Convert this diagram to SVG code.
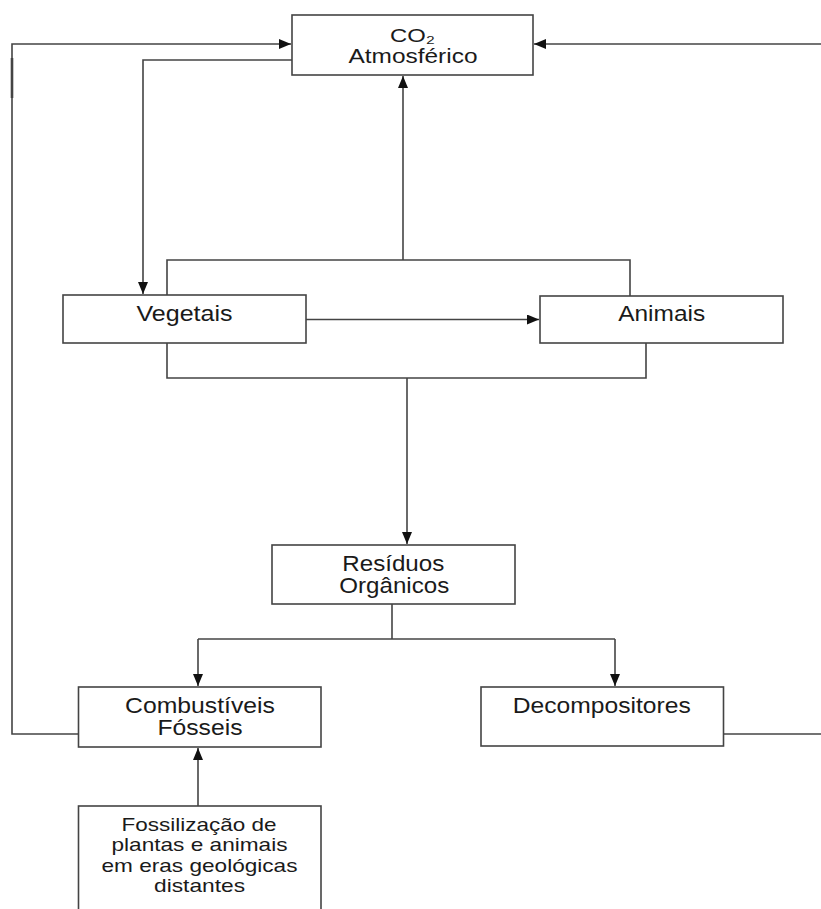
<svg xmlns="http://www.w3.org/2000/svg" width="821" height="909" viewBox="0 0 821 909">
<style>
.box{fill:#fff;stroke:#444;stroke-width:1.6}
.ln{fill:none;stroke:#444;stroke-width:1.6}
.t{font-family:"Liberation Sans",Arial,sans-serif;font-size:21.5px;fill:#1a1a1a;text-anchor:middle}
.s{font-size:19px}
.c{font-size:18px}
.a{font-size:19.5px}
</style>
<defs>
<marker id="ah" markerUnits="userSpaceOnUse" markerWidth="13" markerHeight="11" refX="12" refY="5" orient="auto">
<path d="M0,0 L12,5 L0,10 z" fill="#111"/>
</marker>
</defs>
<rect width="821" height="909" fill="#fff"/>
<g id="connectors">
<path class="ln" d="M78,734 H12 V44 H291" marker-end="url(#ah)"/>
<line x1="12" y1="58" x2="12" y2="98" stroke="#444" stroke-width="2.6"/>
<path class="ln" d="M821,44 H534" marker-end="url(#ah)"/>
<path class="ln" d="M723,734 H821"/>
<path class="ln" d="M292,60 H143 V294" marker-end="url(#ah)"/>
<path class="ln" d="M167,295 V260 H630 V296"/>
<path class="ln" d="M403,260 V76" marker-end="url(#ah)"/>
<path class="ln" d="M306,319.5 H539" marker-end="url(#ah)"/>
<path class="ln" d="M167,343 V378 H646 V343"/>
<path class="ln" d="M407,378 V544" marker-end="url(#ah)"/>
<path class="ln" d="M392,604 V639"/>
<path class="ln" d="M198,639 H615"/>
<path class="ln" d="M198,639 V686" marker-end="url(#ah)"/>
<path class="ln" d="M615,639 V686" marker-end="url(#ah)"/>
<path class="ln" d="M198,806 V748" marker-end="url(#ah)"/>
</g>
<g id="co2">
<rect class="box" x="292" y="15" width="241" height="60"/>
<text class="t c" x="412.5" y="41.5" textLength="45" lengthAdjust="spacingAndGlyphs">CO₂</text>
<text class="t a" x="413" y="63" textLength="129" lengthAdjust="spacingAndGlyphs">Atmosférico</text>
</g>
<g id="vegetais">
<rect class="box" x="63" y="295" width="243" height="48"/>
<text class="t" x="184.5" y="321" textLength="96" lengthAdjust="spacingAndGlyphs">Vegetais</text>
</g>
<g id="animais">
<rect class="box" x="540" y="296" width="243" height="47"/>
<text class="t" x="661.7" y="320.7" textLength="87" lengthAdjust="spacingAndGlyphs">Animais</text>
</g>
<g id="residuos">
<rect class="box" x="272" y="545" width="243" height="59"/>
<text class="t" x="393.3" y="570.7" textLength="102" lengthAdjust="spacingAndGlyphs">Resíduos</text>
<text class="t" x="394.3" y="593.3" textLength="110" lengthAdjust="spacingAndGlyphs">Orgânicos</text>
</g>
<g id="combustiveis">
<rect class="box" x="78.5" y="687" width="242.5" height="60"/>
<text class="t" x="200" y="713.3" textLength="150" lengthAdjust="spacingAndGlyphs">Combustíveis</text>
<text class="t" x="200" y="735" textLength="85" lengthAdjust="spacingAndGlyphs">Fósseis</text>
</g>
<g id="decompositores">
<rect class="box" x="481" y="687" width="242.5" height="59"/>
<text class="t" x="601.8" y="712.7" textLength="178" lengthAdjust="spacingAndGlyphs">Decompositores</text>
</g>
<g id="fossilizacao">
<rect class="box" x="78.5" y="806" width="242.5" height="120"/>
<text class="t s" x="199" y="830.7" textLength="155" lengthAdjust="spacingAndGlyphs">Fossilização de</text>
<text class="t s" x="199.5" y="851" textLength="176" lengthAdjust="spacingAndGlyphs">plantas e animais</text>
<text class="t s" x="199.5" y="871.5" textLength="196" lengthAdjust="spacingAndGlyphs">em eras geológicas</text>
<text class="t s" x="199.5" y="892" textLength="91" lengthAdjust="spacingAndGlyphs">distantes</text>
</g>
</svg>
